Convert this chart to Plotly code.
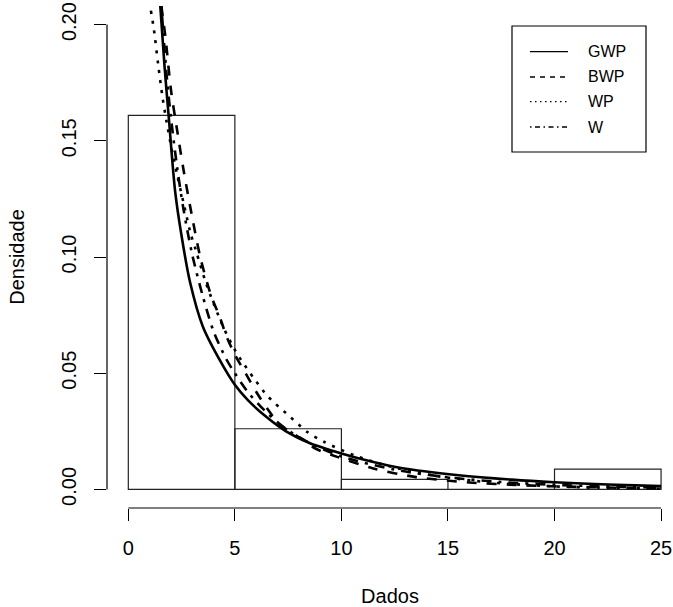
import plotly.graph_objects as go

# ---------------- data ----------------
hist_breaks = [0, 5, 10, 15, 20, 25]
hist_density = [0.1609, 0.0261, 0.00435, 0.0, 0.0087]

gwp_x = [1.50, 1.70, 1.90, 2.20, 2.50, 2.90, 3.50, 4.30, 5.00, 5.60, 6.50, 7.40, 8.50, 10.0, 11.5, 12.8, 15.5, 18.0, 20.0, 22.5, 25.0]
gwp_y = [0.208, 0.182, 0.160, 0.128, 0.109, 0.089, 0.070, 0.0555, 0.045, 0.0385, 0.031, 0.025, 0.020, 0.0155, 0.0118, 0.0092, 0.0061, 0.0042, 0.0031, 0.0021, 0.0014]

bwp_x = [1.55, 1.75, 2.00, 2.30, 2.60, 3.00, 3.40, 3.90, 4.30, 4.60, 5.00, 5.50, 6.00, 6.50, 7.10, 8.00, 8.80, 9.80, 11.5, 13.5, 16.0, 18.5, 21.0, 25.0]
bwp_y = [0.208, 0.194, 0.172, 0.154, 0.137, 0.117, 0.099, 0.083, 0.074, 0.066, 0.058, 0.050, 0.042, 0.035, 0.028, 0.0225, 0.0175, 0.014, 0.009, 0.0053, 0.0030, 0.0018, 0.0011, 0.0004]

wp_x = [1.06, 1.20, 1.40, 1.60, 1.80, 2.00, 2.30, 2.60, 2.90, 3.20, 3.60, 4.00, 4.50, 5.00, 5.30, 5.90, 6.50, 6.90, 7.60, 8.40, 9.20, 10.6, 12.1, 14.3, 17.0, 20.0, 25.0]
wp_y = [0.206, 0.198, 0.183, 0.169, 0.158, 0.148, 0.135, 0.123, 0.111, 0.102, 0.090, 0.080, 0.069, 0.060, 0.0556, 0.0477, 0.0405, 0.0369, 0.0312, 0.0247, 0.0204, 0.0147, 0.0103, 0.0060, 0.0030, 0.0013, 0.0003]

w_x = [1.55, 1.80, 2.00, 2.30, 2.60, 3.00, 3.50, 4.00, 4.60, 5.00, 5.60, 6.50, 7.40, 8.50, 10.0, 12.5, 15.0, 17.5, 20.0, 22.5, 25.0]
w_y = [0.208, 0.178, 0.160, 0.138, 0.120, 0.101, 0.083, 0.068, 0.056, 0.050, 0.042, 0.033, 0.026, 0.020, 0.0142, 0.0085, 0.0052, 0.0032, 0.0020, 0.0012, 0.0008]

series_names = ["GWP", "BWP", "WP", "W"]

x_ticks = [0, 5, 10, 15, 20, 25]
y_ticks = [0.00, 0.05, 0.10, 0.15, 0.20]
y_ticklabels = ["0.00", "0.05", "0.10", "0.15", "0.20"]

# ---------------- layout geometry ----------------
W, H = 673, 607
PL, PR, PT, PB = 107, 673, 6, 508
FONT = "Liberation Sans, Arial, Helvetica, sans-serif"


def px_x(p):
    return (p - PL) / (PR - PL)


def px_y(p):
    return (PB - p) / (PB - PT)


centers = [(a + b) / 2 for a, b in zip(hist_breaks[:-1], hist_breaks[1:])]
widths = [b - a for a, b in zip(hist_breaks[:-1], hist_breaks[1:])]

fig = go.Figure()
fig.add_trace(go.Bar(
    x=centers, y=hist_density, width=widths,
    marker=dict(color="rgba(0,0,0,0)", line=dict(color="#222", width=1.2)),
    showlegend=False, hoverinfo="skip",
))

styles = [
    ("solid", "solid"),
    ("10px,10px", "5px,5px"),
    ("3px,7px", "1.5px,3.5px"),
    ("3px,7px,10px,7px", "1.5px,3.5px,5px,3.5px"),
]
curves = [(gwp_x, gwp_y), (bwp_x, bwp_y), (wp_x, wp_y), (w_x, w_y)]
for (cx, cy), name, (dash, _) in zip(curves, series_names, styles):
    fig.add_trace(go.Scatter(
        x=cx, y=cy, mode="lines", name=name,
        line=dict(color="black", width=2.6, dash=dash, shape="spline", smoothing=0.8),
        showlegend=False,
    ))

shapes = []
# axis lines (R style: from first to last tick)
shapes.append(dict(type="line", xref="x", yref="paper", x0=x_ticks[0], x1=x_ticks[-1], y0=0, y1=0,
                   line=dict(color="black", width=1.2)))
shapes.append(dict(type="line", xref="paper", yref="y", x0=0, x1=0, y0=y_ticks[0], y1=y_ticks[-1],
                   line=dict(color="black", width=1.2)))

# legend (manual, R style)
shapes.append(dict(type="rect", xref="paper", yref="paper",
                   x0=px_x(512), x1=px_x(646), y0=px_y(152), y1=px_y(26),
                   line=dict(color="black", width=1.2), fillcolor="white"))
annotations = []
leg_rows = [51.7, 77, 101.7, 127]
for name, (_, ldash), yy in zip(series_names, styles, leg_rows):
    shapes.append(dict(type="line", xref="paper", yref="paper",
                       x0=px_x(530), x1=px_x(568), y0=px_y(yy), y1=px_y(yy),
                       line=dict(color="black", width=1.3, dash=ldash)))
    annotations.append(dict(xref="paper", yref="paper", x=px_x(586), y=px_y(yy),
                            text=name, showarrow=False, xanchor="left", yanchor="middle",
                            font=dict(family=FONT, size=16, color="black")))

fig.update_layout(
    width=W, height=H,
    margin=dict(l=PL, r=W - PR, t=PT, b=H - PB, pad=0),
    paper_bgcolor="white", plot_bgcolor="white",
    font=dict(family=FONT, size=20, color="black"),
    shapes=shapes, annotations=annotations,
    showlegend=False,
    barmode="overlay",
)
fig.update_xaxes(
    range=[-1, 25.56], tickvals=x_ticks, ticks="outside", ticklen=12, tickwidth=1.2,
    tickcolor="black", showline=False, zeroline=False, showgrid=False,
    ticklabelstandoff=10, tickfont=dict(size=20),
    title=dict(text="Dados", font=dict(size=20), standoff=31),
    automargin=False,
)
fig.update_yaxes(
    range=[-0.008, 0.208], tickvals=y_ticks, ticktext=y_ticklabels, tickangle=-90,
    ticks="outside", ticklen=12, tickwidth=1.2, tickcolor="black",
    showline=False, zeroline=False, showgrid=False,
    ticklabelstandoff=10, tickfont=dict(size=20),
    title=dict(text="Densidade", font=dict(size=20), standoff=28),
    automargin=False,
)

fig.write_html(
    "out.html",
    config={"displayModeBar": False},
    post_script="document.body.style.margin='0';document.body.style.padding='0';",
)
